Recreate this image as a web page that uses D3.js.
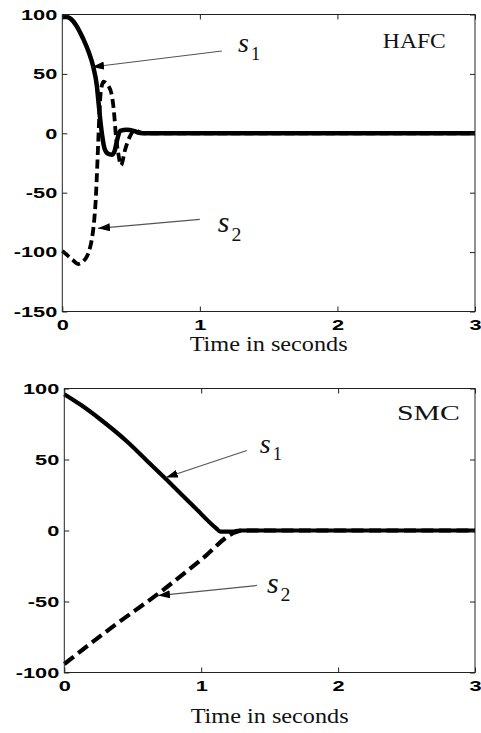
<!DOCTYPE html>
<html>
<head>
<meta charset="utf-8">
<script src="https://cdn.jsdelivr.net/npm/d3@7"></script>
<style>
  body { margin: 0; background: #fff; }
  .tick text { font-family: "Liberation Sans", Arial, sans-serif; font-weight: bold; font-size: 15px; fill: #000; }
  .tick line { stroke: #222; }
  .lbl { font-family: "Liberation Serif", "Times New Roman", serif; fill: #111; }
</style>
</head>
<body>
<svg id="fig" width="481" height="733"></svg>
<script>
// time axis shared by both panels
var xTicks = [0, 1, 2, 3];

// HAFC panel
var hafcT1 = [0, 0.03, 0.06, 0.1, 0.15, 0.19, 0.225, 0.25, 0.265, 0.28, 0.29, 0.305, 0.33, 0.36, 0.38, 0.4, 0.42, 0.47, 0.52, 0.56, 0.6, 3];
var hafcS1 = [98, 98, 96.5, 91, 80, 69, 56, 41, 24, 7, -2, -12, -17, -18, -15, -5, 2, 3, 2, 0.5, 0, 0];
var hafcT2 = [0, 0.04, 0.08, 0.115, 0.15, 0.177, 0.2, 0.215, 0.232, 0.243, 0.25, 0.256, 0.262, 0.268, 0.276, 0.287, 0.3, 0.316, 0.335, 0.36, 0.378, 0.388, 0.407, 0.427, 0.456, 0.49, 0.527, 0.56, 0.6, 3];
var hafcS2 = [-99, -103, -107, -110, -108, -104, -97, -89, -73, -56, -39, -22, -5, 12, 30, 40, 43.5, 42.5, 40, 32, 15, 0, -17, -27, -14, -3, 2.5, 1, 0, 0];
var hafcYTicks = [100, 50, 0, -50, -100, -150];

// SMC panel
var smcT1 = [0, 0.12, 0.26, 0.46, 0.6, 0.75, 0.94, 1.11, 1.14, 1.23, 1.28, 3];
var smcS1 = [96, 88.5, 78.5, 62.5, 49.5, 35.5, 17.5, 1.5, -0.8, -0.8, 0, 0];
var smcT2 = [0, 0.35, 0.7, 1.0, 1.255, 1.3, 3];
var smcS2 = [-94, -68, -43.5, -20.5, -1, 0, 0];
var smcYTicks = [100, 50, 0, -50, -100];

var svg = d3.select("svg#fig");

svg.append("defs").append("marker")
    .attr("id", "head")
    .attr("viewBox", "0 0 12 8")
    .attr("refX", 12).attr("refY", 4)
    .attr("markerWidth", 12).attr("markerHeight", 8)
    .attr("markerUnits", "userSpaceOnUse")
    .attr("orient", "auto")
  .append("path")
    .attr("d", "M0,0 L12,4 L0,8 Z")
    .attr("fill", "#000");

// the scanned figure is stretched sideways: widen the bold numbers with a scale
var wide = 1.45;

function panel(p) {
    var x = d3.scaleLinear().domain([0, 3]).range([p.left, p.right]);
    var y = d3.scaleLinear().domain(p.ydom).range([p.bottom, p.top]);
    var g = svg.append("g");

    var line = d3.line()
        .x(d => x(d[0])).y(d => y(d[1]))
        .curve(d3.curveMonotoneX);

    p.series.forEach(function (s) {
        g.append("path")
            .datum(d3.zip(s.t, s.v))
            .attr("d", line)
            .attr("fill", "none")
            .attr("stroke", "#000")
            .attr("stroke-width", s.w)
            .attr("stroke-linejoin", "round")
            .attr("stroke-dasharray", s.dash || null);
    });

    // MATLAB-ish box with inward ticks on every side
    g.append("rect")
        .attr("x", p.left).attr("y", p.top)
        .attr("width", p.right - p.left).attr("height", p.bottom - p.top)
        .attr("fill", "none").attr("stroke", "#222").attr("stroke-width", 1);

    var ax = g.append("g").attr("transform", "translate(0," + p.bottom + ")")
        .call(d3.axisBottom(x).tickValues(xTicks).tickFormat(d3.format("d"))
              .tickSizeInner(-5).tickSizeOuter(0));
    ax.selectAll("text").attr("x", 0).attr("y", 8).attr("dy", "0.71em")
        .attr("transform", "scale(" + wide + ",1)");
    g.append("g").attr("transform", "translate(0," + p.top + ")")
        .call(d3.axisTop(x).tickValues(xTicks).tickFormat("")
              .tickSizeInner(-5).tickSizeOuter(0));
    var ay = g.append("g").attr("transform", "translate(" + p.left + ",0)")
        .call(d3.axisLeft(y).tickValues(p.yticks).tickFormat(d => String(d))
              .tickSizeInner(-5).tickSizeOuter(0));
    ay.selectAll("text").attr("x", 0)
        .attr("transform", "translate(-5,0) scale(" + wide + ",1)");
    g.append("g").attr("transform", "translate(" + p.right + ",0)")
        .call(d3.axisRight(y).tickValues(p.yticks).tickFormat("")
              .tickSizeInner(-5).tickSizeOuter(0));
    g.selectAll(".domain").remove();

    g.append("text").attr("class", "lbl")
        .attr("x", (p.left + p.right) / 2 - 79).attr("y", p.bottom + p.xlabDy)
        .attr("font-size", 20)
        .attr("textLength", 158).attr("lengthAdjust", "spacingAndGlyphs")
        .text("Time in seconds");

    g.append("text").attr("class", "lbl")
        .attr("x", x(p.title[0])).attr("y", y(p.title[1]))
        .attr("font-size", 21)
        .attr("textLength", 63).attr("lengthAdjust", "spacingAndGlyphs")
        .text(p.title[2]);

    p.notes.forEach(function (n) {
        g.append("line")
            .attr("x1", x(n.from[0])).attr("y1", y(n.from[1]))
            .attr("x2", x(n.to[0])).attr("y2", y(n.to[1]))
            .attr("stroke", "#555").attr("stroke-width", 1.2)
            .attr("marker-end", "url(#head)");
        var t = g.append("text").attr("class", "lbl")
            .attr("x", x(n.at[0])).attr("y", y(n.at[1]))
            .attr("font-size", n.fs).attr("font-style", "italic");
        t.append("tspan").text("s");
        t.append("tspan").attr("font-style", "normal")
            .attr("font-size", n.fs * 0.66).attr("dx", 2).attr("dy", n.fs * 0.28)
            .text(n.sub);
    });
}

panel({
    left: 62.3, right: 475, top: 14.5, bottom: 311.5, ydom: [-150, 100],
    yticks: hafcYTicks, xlabDy: 39.5,
    series: [
        { t: hafcT1, v: hafcS1, w: 4.5 },
        { t: hafcT2, v: hafcS2, w: 3.8, dash: "9,4.5" }
    ],
    title: [2.33, 72, "HAFC"],
    notes: [
        { from: [1.16, 69.3], to: [0.216, 55.8], at: [1.277, 68.7], sub: "1", fs: 28 },
        { from: [1.0, -72.4], to: [0.259, -80], at: [1.13, -83.5], sub: "2", fs: 30 }
    ]
});

panel({
    left: 64.3, right: 475, top: 388.5, bottom: 672.5, ydom: [-100, 100],
    yticks: smcYTicks, xlabDy: 50.5,
    series: [
        { t: smcT1, v: smcS1, w: 4.2 },
        { t: smcT2, v: smcS2, w: 4.2, dash: "12,5.5" }
    ],
    title: [2.43, 77.5, "SMC"],
    notes: [
        { from: [1.333, 56.3], to: [0.742, 37.3], at: [1.428, 54.9], sub: "1", fs: 28 },
        { from: [1.407, -38.7], to: [0.684, -45.8], at: [1.48, -43.7], sub: "2", fs: 30 }
    ]
});
</script>
</body>
</html>
